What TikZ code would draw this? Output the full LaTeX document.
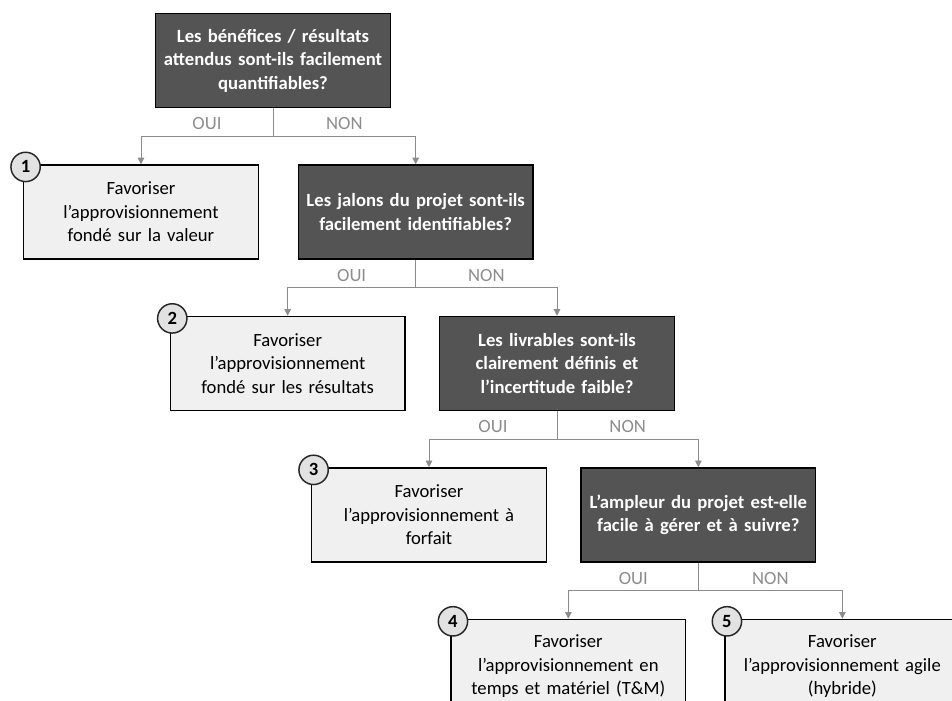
\documentclass[tikz,border=0pt]{standalone}
\usepackage{fontspec}
\setmainfont{Carlito}
\usepackage{xcolor}
\usetikzlibrary{arrows.meta, positioning}

\definecolor{qfill}{HTML}{545454}
\definecolor{rfill}{HTML}{F0F0F0}
\definecolor{numfill}{HTML}{E2E2E2}
\definecolor{linkgray}{HTML}{8C8C8C}

\begin{document}
\begin{tikzpicture}[
    node distance=42pt,
    quest/.style={draw=black, rectangle, line width=1.1pt, fill=qfill, text=white, minimum width=176pt, minimum height=70.5pt, text width=170pt, inner sep=3pt, align=center, font=\fontsize{14}{17.6}\selectfont\bfseries},
    advice/.style={draw=black, rectangle, line width=1.1pt, fill=rfill, text=black, minimum width=176pt, minimum height=70.5pt, text width=170pt, inner sep=3pt, align=center, font=\fontsize{14}{17.6}\selectfont},
    num/.style={draw=black!85, circle, line width=1.1pt, fill=numfill, minimum size=22pt, inner sep=0pt, font=\fontsize{14}{14}\selectfont\bfseries},
    choice/.style={text=linkgray, above=1pt, font=\fontsize{14}{14}\selectfont},
    arrow/.style={-{Triangle[width=5pt,length=5pt]}, line width=0.6pt, draw=linkgray}
]
\node[quest] (q1) at (0,0) {Les bénéfices / résultats\\attendus sont-ils facilement\\quantifiables?};
\useasboundingbox (-204.75pt,45.4pt) rectangle (509.25pt,-479.6pt);

\node[advice, below=of q1, xshift=-99pt] (r1) {Favoriser\\l’approvisionnement\\fondé sur la valeur};
\node[quest, below=of q1, xshift=107pt] (q2) {Les jalons du projet sont-ils\\facilement identifiables?};

\node[advice, below=of q2, xshift=-96pt] (r2) {Favoriser\\l’approvisionnement\\fondé sur les résultats};
\node[quest, below=of q2, xshift=106pt] (q3) {Les livrables sont-ils\\clairement définis et\\l’incertitude faible?};

\node[advice, below=of q3, xshift=-96pt] (r3) {Favoriser\\l’approvisionnement à\\forfait};
\node[quest, below=of q3, xshift=106pt] (q4) {L’ampleur du projet est-elle\\facile à gérer et à suivre?};

\node[advice, below=of q4, xshift=-97.5pt] (r4) {Favoriser\\l’approvisionnement en\\temps et matériel (T\&M)};
\node[advice, below=of q4, xshift=108pt] (r5) {Favoriser\\l’approvisionnement agile\\(hybride)};

% numbered badges
\node[num] at ([shift={(2pt,-2pt)}]r1.north west) (n1) {1};
\node[num] at ([shift={(2pt,-2pt)}]r2.north west) (n2) {2};
\node[num] at ([shift={(2pt,-2pt)}]r3.north west) (n3) {3};
\node[num] at ([shift={(2pt,-2pt)}]r4.north west) (n4) {4};
\node[num] at ([shift={(2pt,-2pt)}]r5.north west) (n5) {5};

\draw[arrow] (q1.south) -- ++(0,-21pt) -| node[choice, pos=0.25] {OUI} (r1.north);
\draw[arrow] (q1.south) -- ++(0,-21pt) -| node[choice, pos=0.25] {NON} (q2.north);
\draw[arrow] (q2.south) -- ++(0,-21pt) -| node[choice, pos=0.25] {OUI} (r2.north);
\draw[arrow] (q2.south) -- ++(0,-21pt) -| node[choice, pos=0.25] {NON} (q3.north);
\draw[arrow] (q3.south) -- ++(0,-21pt) -| node[choice, pos=0.25] {OUI} (r3.north);
\draw[arrow] (q3.south) -- ++(0,-21pt) -| node[choice, pos=0.25] {NON} (q4.north);
\draw[arrow] (q4.south) -- ++(0,-21pt) -| node[choice, pos=0.25] {OUI} (r4.north);
\draw[arrow] (q4.south) -- ++(0,-21pt) -| node[choice, pos=0.25] {NON} (r5.north);
\end{tikzpicture}
\end{document}
